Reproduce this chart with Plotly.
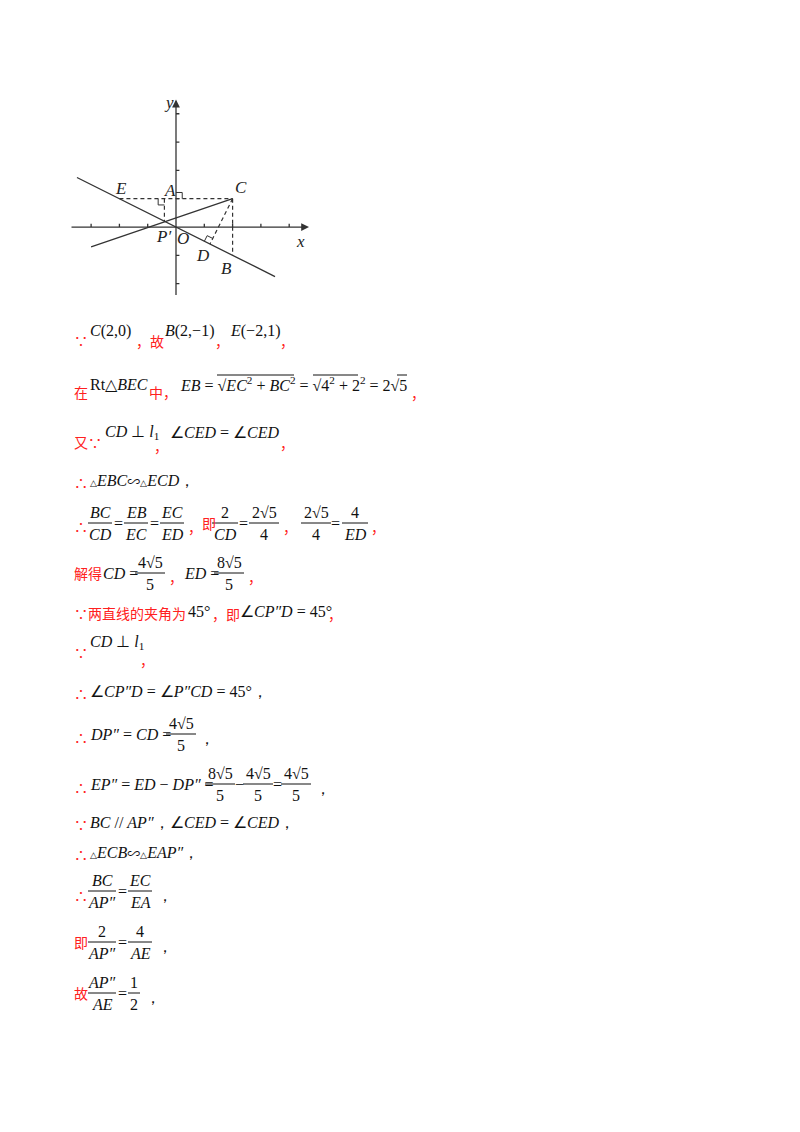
import plotly.graph_objects as go

# ---- diagram data (coordinate units) ----
pt_names = ["E", "A", "C", "P'", "O", "D", "B"]
pt_x = [-2, -0.41, 2, -0.41, 0, 1.2, 2]
pt_y = [1, 1, 1, 0.2, 0, -0.6, -1]
l1_x = [-3.5, 3.5]
l1_y = [1.75, -1.75]
l2_x = [-3.0, 2]
l2_y = [-0.7, 1]
x_ticks = [-3, -2, -1, 1, 2, 3, 4]
y_ticks = [-2, -1, 1, 2, 3, 4]

OFF = 8  # browser body margin compensation
P = dict(zip(pt_names, zip(pt_x, pt_y)))
fig = go.Figure()
X2 = dict(xaxis="x2", yaxis="y2")
blk = dict(color="#333", width=1.3)
dsh = dict(color="#333", width=1.2, dash="4px,3px")
fig.add_trace(go.Scatter(x=l1_x, y=l1_y, mode="lines", line=blk, **X2))
fig.add_trace(go.Scatter(x=l2_x, y=l2_y, mode="lines", line=blk, **X2))
for a, b in [("E", "C"), ("C", "B"), ("A", "P'"), ("C", "D")]:
    fig.add_trace(go.Scatter(x=[P[a][0], P[b][0]], y=[P[a][1], P[b][1]], mode="lines", line=dsh, **X2))
fig.add_trace(go.Scatter(x=[-3.7, 4.5], y=[0, 0], mode="lines", line=blk, **X2))
fig.add_trace(go.Scatter(x=[0, 0], y=[-2.4, 4.3], mode="lines", line=blk, **X2))
for t in x_ticks:
    fig.add_trace(go.Scatter(x=[t, t], y=[0, 0.12], mode="lines", line=blk, **X2))
for t in y_ticks:
    fig.add_trace(go.Scatter(x=[0, 0.12], y=[t, t], mode="lines", line=blk, **X2))
s = 0.22
thin = dict(color="#333", width=1)
ax_, ay_ = P["A"]
fig.add_trace(go.Scatter(x=[ax_ - s, ax_ - s, ax_], y=[ay_, ay_ - s, ay_ - s], mode="lines", line=thin, **X2))
fig.add_trace(go.Scatter(x=[0, s, s], y=[1 + s, 1 + s, 1], mode="lines", line=thin, **X2))
dx, dy = P["D"]
u = (2 / 5 ** 0.5 * s, -1 / 5 ** 0.5 * s)
v = (1 / 5 ** 0.5 * s, 2 / 5 ** 0.5 * s)
fig.add_trace(go.Scatter(x=[dx - u[0], dx - u[0] + v[0], dx + v[0]], y=[dy - u[1], dy - u[1] + v[1], dy + v[1]],
                         mode="lines", line=thin, **X2))

ann = []
for x0, y0, x1, y1 in [(4.4, 0, 4.7, 0), (0, 4.2, 0, 4.5)]:
    ann.append(dict(x=x1, y=y1, ax=x0, ay=y0, xref="x2", yref="y2", axref="x2", ayref="y2",
                    showarrow=True, arrowhead=2, arrowsize=1.2, arrowwidth=1.3, arrowcolor="#333", text=""))
lab = [("E", -1.95, 1.35), ("A", -0.2, 1.3), ("C", 2.3, 1.4), ("P′", -0.45, -0.35), ("O", 0.25, -0.4),
       ("D", 0.95, -1.0), ("B", 1.8, -1.45), ("x", 4.4, -0.5), ("y", -0.25, 4.4)]
for t, x, y in lab:
    ann.append(dict(x=x, y=y, xref="x2", yref="y2", text="<i>%s</i>" % t, showarrow=False,
                    font=dict(family="Liberation Serif", size=17, color="#222")))

MF = "Liberation Serif"
CF = "Noto Sans CJK SC"
RED = "#ff2020"
def T(x, y, text, red=False, anchor="left", size=16):
    ann.append(dict(x=x, y=y, xref="x", yref="y", text=text, showarrow=False, xanchor=anchor, yanchor="middle",
                    font=dict(family=CF if red else MF, size=(14 if red else size), color=RED if red else "#111")))
shapes = []
def bar(x0, x1, y):
    shapes.append(dict(type="line", xref="x", yref="y", x0=x0, x1=x1, y0=y, y1=y, line=dict(color="#111", width=1)))
def F(xc, yb, num, den, w=20, dn=11):
    T(xc, yb - dn, num, anchor="center")
    T(xc, yb + dn, den, anchor="center")
    bar(xc - w / 2, xc + w / 2, yb)
i = lambda s: "<i>%s</i>" % s
r5 = "√5"
tri = "<span style='font-size:9px'>△</span>"
sim = "<span style='font-family:Noto Sans CJK SC;font-size:13px'>∽</span>"

T(72, 340, "∵", True); T(88, 331, i("C") + "(2,0)"); T(134, 341, "，故", True)
T(163, 331, i("B") + "(2,−1)"); T(213, 341, "，", True); T(228, 331, i("E") + "(−2,1)"); T(278, 341, "，", True)
T(72, 392, "在", True); T(88, 384, "Rt△" + i("BEC")); T(147, 392, "中，", True)
T(178, 384, i("EB") + " = √" + i("EC") + "<sup>2</sup> + " + i("BC") + "<sup>2</sup> = √4<sup>2</sup> + 2<sup>2</sup> = 2√5")
bar(217, 294, 375); bar(313, 358, 375); bar(397, 407, 375)
T(409, 393, "，", True)
T(72, 442, "又∵", True); T(103, 432, i("CD") + " ⊥ " + i("l") + "<sub>1</sub>"); T(152, 446, "，", True)
T(168, 432, "∠" + i("CED") + " = ∠" + i("CED")); T(278, 443, "，", True)
T(72, 482, "∴", True); T(88, 480, tri + i("EBC") + sim + tri + i("ECD") + "，")
yb = 523
T(72, yb + 3, "∴", True)
F(100, yb, i("BC"), i("CD"), 24); T(118, yb, "=", anchor="center")
F(136, yb, i("EB"), i("EC"), 24); T(154, yb, "=", anchor="center")
F(172, yb, i("EC"), i("ED"), 24); T(186, yb + 4, "，", True)
T(200, yb, "即", True)
F(225, yb, "2", i("CD"), 26); T(243, yb, "=", anchor="center")
F(264, yb, "2" + r5, "4", 30); T(281, yb + 4, "，", True)
F(316, yb, "2" + r5, "4", 30); T(335, yb, "=", anchor="center")
F(355, yb, "4", i("ED"), 26); T(369, yb + 4, "，", True)
yb = 573
T(72, yb, "解得", True); T(101, yb, i("CD") + " ="); F(150, yb, "4" + r5, "5", 30); T(167, yb + 4, "，", True)
T(182, yb, i("ED") + " ="); F(229, yb, "8" + r5, "5", 30); T(246, yb + 4, "，", True)
T(72, 613, "∵两直线的夹角为", True); T(186, 611, "45°"); T(210, 614, "，即", True)
T(238, 611, "∠" + i("CP″D") + " = 45°"); T(326, 614, "，", True)
T(72, 652, "∵", True); T(88, 642, i("CD") + " ⊥ " + i("l") + "<sub>1</sub>"); T(138, 660, "，", True)
T(72, 693, "∴", True); T(88, 691, "∠" + i("CP″D") + " = ∠" + i("P″CD") + " = 45°，")
yb = 734
T(72, yb + 3, "∴", True); T(88, yb, i("DP″") + " = " + i("CD") + " ="); F(181, yb, "4" + r5, "5", 30); T(197, yb + 4, "，")
yb = 784
T(72, yb + 3, "∴", True); T(88, yb, i("EP″") + " = " + i("ED") + " − " + i("DP″") + " =")
F(220, yb, "8" + r5, "5", 30); T(239, yb, "−", anchor="center"); F(258, yb, "4" + r5, "5", 30)
T(277, yb, "=", anchor="center"); F(296, yb, "4" + r5, "5", 30); T(313, yb + 4, "，")
T(72, 824, "∵", True); T(88, 822, i("BC") + " // " + i("AP″") + "，"); T(168, 822, "∠" + i("CED") + " = ∠" + i("CED") + "，")
T(72, 854, "∴", True); T(88, 852, tri + i("ECB") + sim + tri + i("EAP″") + "，")
yb = 891
T(72, yb + 4, "∴", True); F(102, yb, i("BC"), i("AP″"), 28); T(122, yb, "=", anchor="center")
F(140, yb, i("EC"), i("EA"), 24); T(155, yb + 4, "，")
yb = 942
T(72, yb, "即", True); F(102, yb, "2", i("AP″"), 28); T(122, yb, "=", anchor="center")
F(140, yb, "4", i("AE"), 24); T(155, yb + 4, "，")
yb = 993
T(72, yb, "故", True); F(102, yb, i("AP″"), i("AE"), 28); T(122, yb, "=", anchor="center")
F(134, yb, "1", "2", 12); T(143, yb + 4, "，")

W, H = 800, 1132
fig.update_layout(
    width=W, height=H, margin=dict(l=0, r=0, t=0, b=0), showlegend=False,
    paper_bgcolor="white", plot_bgcolor="rgba(0,0,0,0)",
    xaxis=dict(range=[OFF, W + OFF], domain=[0, 1], visible=False, fixedrange=True),
    yaxis=dict(range=[H + OFF, OFF], domain=[0, 1], visible=False, fixedrange=True),
    xaxis2=dict(range=[-3.7, 4.7], domain=[(71.3 - OFF) / W, (309 - OFF) / W], visible=False, anchor="y2"),
    yaxis2=dict(range=[-2.4, 4.5], domain=[(H - 295 + OFF) / H, (H - 99.6 + OFF) / H], visible=False, anchor="x2"),
    annotations=ann, shapes=shapes,
)
fig.write_html("out.html")
